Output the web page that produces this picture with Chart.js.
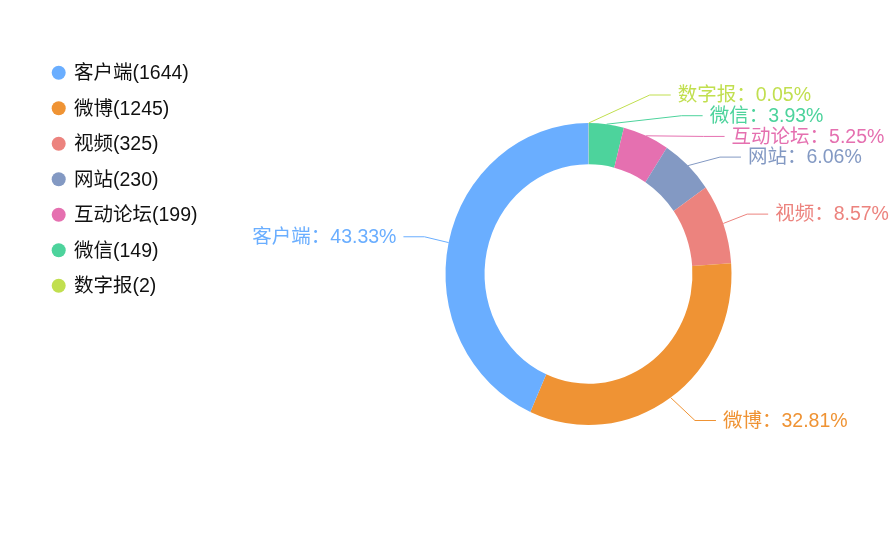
<!DOCTYPE html>
<html><head><meta charset="utf-8">
<script src="https://cdn.jsdelivr.net/npm/chart.js@4/dist/chart.umd.min.js"></script>
<style>html,body{margin:0;padding:0;background:#fff;}#wrap{width:895px;height:549px;position:relative;}</style>
</head><body><div id="wrap"><canvas id="c" width="895" height="549"></canvas></div>
<script>
const categories = ['客户端','微博','视频','网站','互动论坛','微信','数字报'];
const counts = [1644,1245,325,230,199,149,2];
const colors = ['#6aaeff','#ef9334','#ec837e','#8399c3','#e570b0','#4dd39c','#c1df4f'];

const total = counts.reduce((a,b)=>a+b,0);
const FONT = '"Liberation Sans","Noto Sans CJK SC",sans-serif';
const K = 1.056;          // vertical stretch of the ring in the reference
const LEN1 = 26.5, LEN_END = 45.4, LEN2 = 21, GAP = 7, ROW_H = 20.7;

// chart draws clockwise from top: reverse order so first category runs counter-clockwise
const chartLabels = categories.slice().reverse();
const chartData = counts.slice().reverse();
const chartColors = colors.slice().reverse();

const ellipsePlugin = {
  id:'ellipse',
  beforeDatasetsDraw(chart){
    const a = chart.getDatasetMeta(0).data[0];
    const ctx = chart.ctx; ctx.save();
    ctx.translate(a.x,a.y); ctx.scale(1,K); ctx.translate(-a.x,-a.y);
  },
  afterDatasetsDraw(chart){ chart.ctx.restore(); }
};

const labelPlugin = {
  id:'outerLabels',
  afterDraw(chart){
    const ctx = chart.ctx;
    const meta = chart.getDatasetMeta(0);
    const items = [];
    meta.data.forEach((arc,i)=>{
      const mid = (arc.startAngle+arc.endAngle)/2;
      const c = Math.cos(mid), s = Math.sin(mid);
      const R = arc.outerRadius;
      const idx = categories.length-1-i;
      items.push({
        idx, cx:arc.x, cy:arc.y, R,
        sx: arc.x + R*c, sy: arc.y + R*s*K,
        y: arc.y + (R+LEN1)*s*K,
        right: c >= -1e-9,
        text: categories[idx] + '：' + (counts[idx]/total*100).toFixed(2) + '%',
        color: colors[idx]
      });
    });
    [true,false].forEach(side=>{
      const list = items.filter(it=>it.right===side).sort((a,b)=>a.y-b.y);
      for(let j=1;j<list.length;j++){
        if(list[j].y < list[j-1].y + ROW_H) list[j].y = list[j-1].y + ROW_H;
      }
    });
    ctx.save();
    ctx.font = '19.5px ' + FONT;
    ctx.textBaseline = 'middle';
    items.forEach(it=>{
      const Lu = it.R + LEN_END;
      const dyu = (it.y - it.cy)/K;
      const dx = Math.sqrt(Math.max(0, Lu*Lu - dyu*dyu));
      const dir = it.right ? 1 : -1;
      const endX = it.cx + dir*dx;
      const elbowX = endX - dir*LEN2;
      ctx.strokeStyle = it.color; ctx.lineWidth = 1;
      ctx.beginPath();
      ctx.moveTo(it.sx, it.sy); ctx.lineTo(elbowX, it.y); ctx.lineTo(endX, it.y);
      ctx.stroke();
      ctx.fillStyle = it.color;
      ctx.textAlign = it.right ? 'left' : 'right';
      ctx.fillText(it.text, endX + dir*GAP, it.y + 1);
    });
    ctx.restore();
  }
};

const legendPlugin = {
  id:'leftLegend',
  afterDraw(chart){
    const ctx = chart.ctx;
    ctx.save();
    ctx.font = '19.5px ' + FONT;
    ctx.textBaseline = 'middle';
    ctx.textAlign = 'left';
    categories.forEach((name,i)=>{
      const y = 72.7 + i*35.5;
      ctx.fillStyle = colors[i];
      ctx.beginPath(); ctx.arc(58.7, y, 7, 0, Math.PI*2); ctx.fill();
      ctx.fillStyle = '#111';
      ctx.fillText(name + '(' + counts[i] + ')', 74, y + 1);
    });
    ctx.restore();
  }
};

new Chart(document.getElementById('c'), {
  type:'doughnut',
  data:{ labels: chartLabels, datasets:[{ data: chartData, backgroundColor: chartColors, borderWidth:0, clip:false }] },
  options:{
    responsive:false, animation:false,
    cutout:'72.7%',
    layout:{ padding:{ left:445.5, right:163.5, top:131, bottom:132 } },
    plugins:{ legend:{display:false}, tooltip:{enabled:false} }
  },
  plugins:[ellipsePlugin, labelPlugin, legendPlugin]
});
</script>
</body></html>
